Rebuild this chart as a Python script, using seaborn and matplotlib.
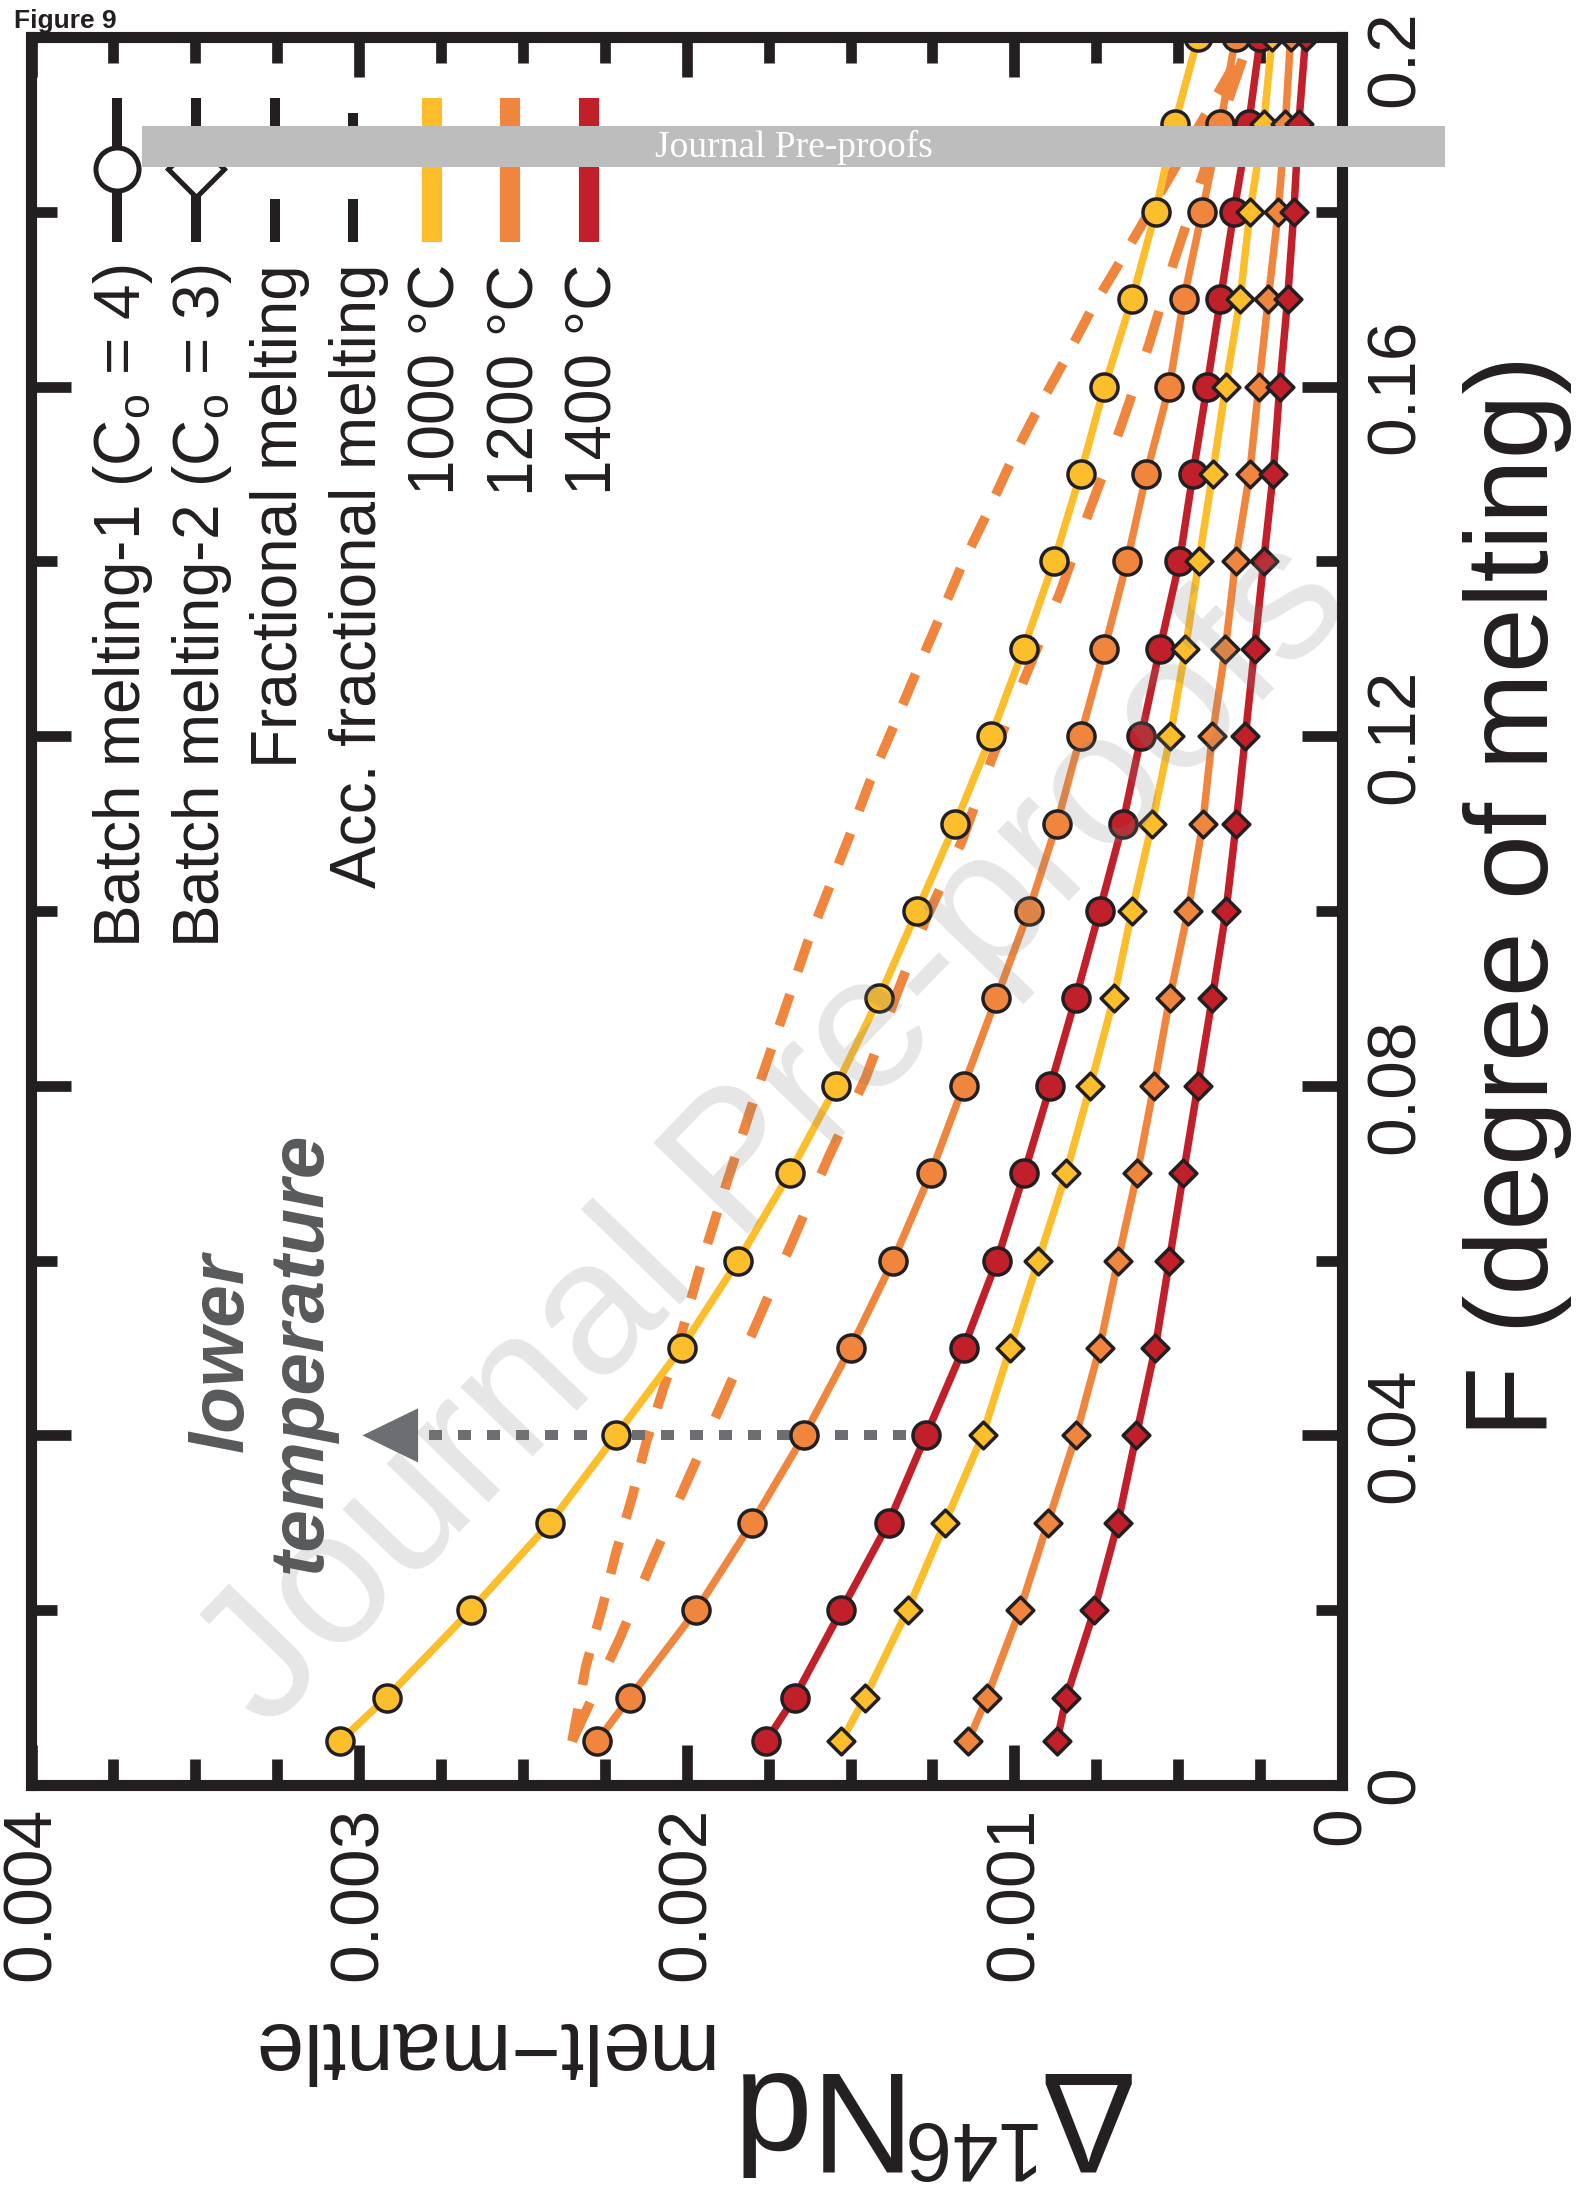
import numpy as np
import matplotlib
matplotlib.use("Agg")
import matplotlib.pyplot as plt
import seaborn as sns
from matplotlib.lines import Line2D
from matplotlib.patches import Rectangle
from matplotlib.ticker import MultipleLocator

# ------------------------------------------------------------------ data
# Degree of melting F for the batch-melting model points
F_pts = [0.005, 0.01, 0.02, 0.03, 0.04, 0.05, 0.06, 0.07, 0.08, 0.09, 0.10,
         0.11, 0.12, 0.13, 0.14, 0.15, 0.16, 0.17, 0.18, 0.19, 0.20]

# Delta146Nd(melt-mantle), in units of 1e-3
batch1_1000 = [3.059, 2.916, 2.659, 2.417, 2.216, 2.016, 1.843, 1.686, 1.543, 1.414, 1.297,
               1.180, 1.071, 0.972, 0.879, 0.798, 0.725, 0.641, 0.569, 0.511, 0.439]
batch1_1200 = [2.274, 2.174, 1.971, 1.800, 1.642, 1.500, 1.370, 1.255, 1.155, 1.055, 0.956,
               0.870, 0.798, 0.725, 0.656, 0.597, 0.527, 0.483, 0.427, 0.371, 0.325]
batch1_1400 = [1.758, 1.671, 1.528, 1.384, 1.270, 1.155, 1.053, 0.970, 0.890, 0.813, 0.740,
               0.669, 0.613, 0.556, 0.496, 0.455, 0.412, 0.371, 0.330, 0.285, 0.249]
batch2_1000 = [1.528, 1.456, 1.326, 1.212, 1.097, 1.013, 0.927, 0.842, 0.768, 0.697, 0.641,
               0.580, 0.524, 0.478, 0.437, 0.395, 0.355, 0.311, 0.281, 0.239, 0.213]
batch2_1200 = [1.141, 1.084, 0.983, 0.898, 0.812, 0.740, 0.684, 0.625, 0.574, 0.526, 0.470,
               0.425, 0.396, 0.356, 0.325, 0.282, 0.254, 0.225, 0.195, 0.173, 0.157]
batch2_1400 = [0.870, 0.842, 0.756, 0.684, 0.628, 0.570, 0.527, 0.484, 0.440, 0.396, 0.354,
               0.323, 0.295, 0.267, 0.239, 0.210, 0.190, 0.166, 0.147, 0.132, 0.111]

# Fractional melting (1200 C)
frac_F = [0.005, 0.0169, 0.0259, 0.0350, 0.0442, 0.0534, 0.0626, 0.0717, 0.0809, 0.0906,
          0.0989, 0.1080, 0.1175, 0.1265, 0.1363, 0.1459, 0.1553, 0.1647, 0.1742, 0.1870, 0.2000]
frac_D = [2.350, 2.203, 2.103, 1.996, 1.887, 1.780, 1.673, 1.569, 1.454, 1.358,
          1.272, 1.160, 1.068, 0.970, 0.862, 0.770, 0.676, 0.590, 0.514, 0.400, 0.280]
# Accumulated fractional melting (1200 C)
acc_F = [0.005, 0.0136, 0.0201, 0.0266, 0.0329, 0.0393, 0.0455, 0.0519, 0.0584, 0.0649,
         0.0711, 0.0773, 0.0831, 0.0900, 0.0962, 0.1025, 0.1086, 0.1149, 0.1210, 0.1271,
         0.1333, 0.1394, 0.1455, 0.1516, 0.1576, 0.1633, 0.1688, 0.1750, 0.1850, 0.2000]
acc_D = [2.350, 2.308, 2.259, 2.216, 2.167, 2.123, 2.070, 2.014, 1.966, 1.912,
         1.859, 1.805, 1.752, 1.689, 1.633, 1.567, 1.503, 1.440, 1.370, 1.302,
         1.231, 1.162, 1.083, 1.008, 0.926, 0.842, 0.765, 0.666, 0.510, 0.280]
UNIT = 1e-3

# arrow annotation (F, from, to) in data units
arrow_F = 0.04
arrow_from = 1.33
arrow_to = 2.99

x_ticks = [0.004, 0.003, 0.002, 0.001, 0.0]
x_tick_labels = ["0.004", "0.003", "0.002", "0.001", "0"]
y_ticks = [0.0, 0.04, 0.08, 0.12, 0.16, 0.2]
y_tick_labels = ["0", "0.04", "0.08", "0.12", "0.16", "0.2"]

legend_labels = ["Batch melting-1 (C$_{\\mathrm{o}}$ = 4)", "Batch melting-2 (C$_{\\mathrm{o}}$ = 3)",
                 "Fractional melting", "Acc. fractional melting",
                 "1000 \u00b0C", "1200 \u00b0C", "1400 \u00b0C"]

# ------------------------------------------------------------------ style
YEL = "#fdbe2c"
ORA = "#f0863e"
RED = "#c1202a"
BLK = "#231f20"
GRY = "#6d6e71"
TXG = "#58595b"

sns.set_theme(style="ticks")
plt.rcParams["font.family"] = ["Liberation Sans", "DejaVu Sans"]
plt.rcParams["mathtext.fontset"] = "custom"
plt.rcParams["mathtext.rm"] = "Liberation Sans"
plt.rcParams["mathtext.it"] = "Liberation Sans:italic"
plt.rcParams["mathtext.bf"] = "Liberation Sans:bold"

W, H = 1587, 2198


def fx(x):
    return x / W


def fy(y):
    return 1 - y / H


fig = plt.figure(figsize=(W / 100, H / 100), dpi=100, facecolor="white")
AX_L, AX_R, AX_T, AX_B = 31.5, 1342, 37, 1785
ax = fig.add_axes([fx(AX_L), fy(AX_B), fx(AX_R) - fx(AX_L), fy(AX_T) - fy(AX_B)])
ax.set_facecolor("white")

# dashed model lines
sns.lineplot(x=np.array(acc_D) * UNIT, y=acc_F, sort=False, estimator=None, color=ORA,
             lw=7, ax=ax, legend=False, zorder=2)
ax.lines[-1].set_dashes([3.4, 2.5])
sns.lineplot(x=np.array(frac_D) * UNIT, y=frac_F, sort=False, estimator=None, color=ORA,
             lw=7, ax=ax, legend=False, zorder=2)
ax.lines[-1].set_dashes([4.4, 4.7])

series = [(batch1_1000, YEL, "o"), (batch1_1200, ORA, "o"), (batch1_1400, RED, "o"),
          (batch2_1000, YEL, "D"), (batch2_1200, ORA, "D"), (batch2_1400, RED, "D")]
for vals, col, mk in series:
    sns.lineplot(x=np.array(vals) * UNIT, y=F_pts, sort=False, estimator=None, color=col,
                 lw=5.4, ax=ax, legend=False, zorder=2.5)

# dotted arrow
ax.plot([arrow_from * UNIT, (arrow_to - 0.165) * UNIT], [arrow_F, arrow_F], color=GRY, lw=7.2,
        dashes=[1.3, 1.6], solid_capstyle="butt", zorder=2.8)
hw = 0.0031
ax.fill([arrow_to * UNIT, (arrow_to - 0.17) * UNIT, (arrow_to - 0.17) * UNIT],
        [arrow_F, arrow_F + hw, arrow_F - hw], color=GRY, lw=0, zorder=2.8)

z = 3
for vals, col, mk in series:
    s = 380 if mk == "o" else 185
    sns.scatterplot(x=np.array(vals) * UNIT, y=F_pts, marker=mk, s=s, color=col,
                    edgecolor=BLK, linewidth=2.5, ax=ax, legend=False, zorder=z)
    z += 0.1

ax.set_xlim(0.004, 0)
ax.set_ylim(0, 0.2)
ax.set_xticks(x_ticks, labels=x_tick_labels, rotation=90)
# the top label is drawn separately (shifted down so it stays on the page)
ax.set_yticks(y_ticks, labels=y_tick_labels[:-1] + [""], rotation=90, va="center")
ax.xaxis.set_minor_locator(MultipleLocator(0.00025))
ax.yaxis.set_minor_locator(MultipleLocator(0.02))
ax.tick_params(which="both", direction="in", top=True, bottom=True, left=True, right=True,
               labelleft=False, labelright=True, labelbottom=True, labeltop=False,
               color=BLK, width=7.7, labelsize=50, pad=15.6, labelcolor=BLK)
ax.tick_params(which="major", length=29)
ax.tick_params(which="minor", length=18.4)
for sp in ax.spines.values():
    sp.set_linewidth(8)
    sp.set_color(BLK)
    sp.set_zorder(6)
ax.set_xlabel("")
ax.set_ylabel("")
fig.text(fx(AX_R) + 15.6 / 72 * 100 / W, fy(59), y_tick_labels[-1], rotation=90,
         ha="left", va="center", fontsize=50, color=BLK)

# axis labels (page is rotated 90 degrees)
fig.text(fx(1463), fy(896), "F (degree of melting)", rotation=90, ha="left", va="center",
         fontsize=84, color=BLK)
fig.text(fx(1128), fy(2072), "\u0394", rotation=180, rotation_mode="anchor", ha="left",
         va="baseline", fontsize=102, color=BLK)
fig.text(fx(1032), fy(2122), "146", rotation=180, rotation_mode="anchor", ha="left",
         va="baseline", fontsize=60, color=BLK)
fig.text(fx(891), fy(2072), "Nd", rotation=180, rotation_mode="anchor", ha="left",
         va="baseline", fontsize=102, color=BLK)
fig.text(fx(709), fy(2023), "melt\u2212mantle", rotation=180, rotation_mode="anchor",
         ha="left", va="baseline", fontsize=61, color=BLK)

# legend (drawn by hand because of the rotated page)
col_step = 78.5
hx = [117.5 + col_step * i for i in range(7)]
for i, lab in enumerate(legend_labels):
    fig.text(fx(hx[i] + 23), fy(264), lab, rotation=90, rotation_mode="anchor", ha="right",
             va="baseline", fontsize=46, color=BLK, zorder=5)
# batch handles
for i, mk, ms in [(0, "o", 31), (1, "D", 29)]:
    fig.add_artist(Line2D([fx(hx[i])] * 2, [fy(98), fy(242)], color=BLK, lw=7.2, zorder=5,
                          solid_capstyle="butt"))
    fig.add_artist(Line2D([fx(hx[i])], [fy(169)], marker=mk, ms=ms, mfc="white", mec=BLK,
                          mew=3.6, lw=0, zorder=5.1))
# dashed handles
for i, segs in [(2, [(98, 141), (199, 242)]), (3, [(113, 146), (199, 242)])]:
    for a, b in segs:
        fig.add_artist(Line2D([fx(hx[i])] * 2, [fy(a), fy(b)], color=BLK, lw=7.2, zorder=5,
                              solid_capstyle="butt"))
# colour handles
for i, col in [(4, YEL), (5, ORA), (6, RED)]:
    fig.add_artist(Line2D([fx(hx[i])] * 2, [fy(98), fy(242)], color=col, lw=14.5, zorder=5,
                          solid_capstyle="butt"))

# annotation text
fig.text(fx(262), fy(1352), "lower\ntemperature", rotation=90, ha="center", va="center",
         multialignment="center", fontsize=55, fontweight="bold", fontstyle="italic",
         color=TXG, linespacing=1.12, zorder=4.5)

# watermark
fig.text(fx(775), fy(1135), "Journal Pre-proofs", rotation=46, rotation_mode="anchor",
         ha="center", va="center", fontsize=137, color="#808080", alpha=0.2, zorder=4)

# journal band
fig.add_artist(Rectangle((fx(142), fy(167)), fx(1445) - fx(142), fy(126) - fy(167),
                         transform=fig.transFigure, facecolor="#bdbdbd", edgecolor="none",
                         zorder=10))
fig.text(fx(793.6), fy(156.7), "Journal Pre-proofs", ha="center", va="baseline",
         fontsize=27, color="white", family=["Liberation Serif", "DejaVu Serif"], zorder=11)

fig.text(fx(14), fy(28), "Figure 9", fontsize=19, fontweight="bold", color=BLK,
         ha="left", va="baseline")

fig.savefig("out.png", dpi=100, facecolor="white")
